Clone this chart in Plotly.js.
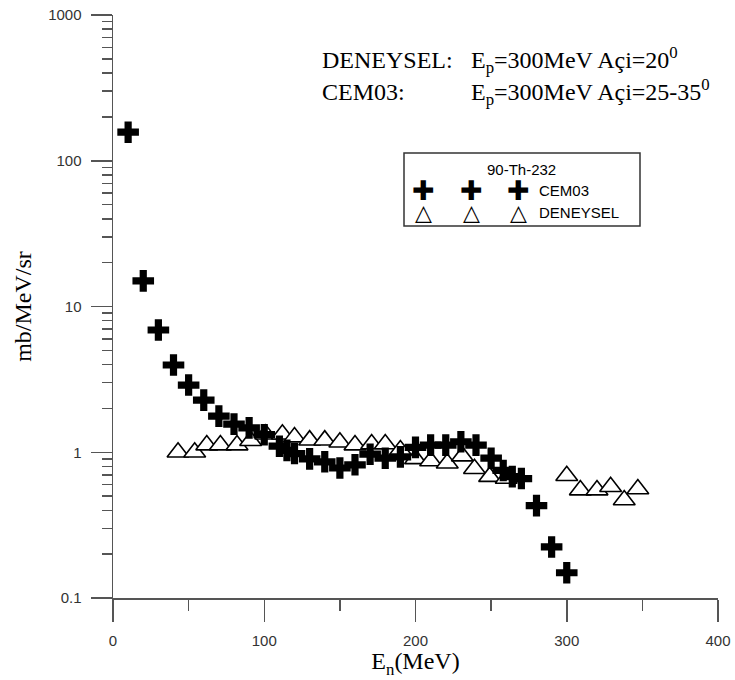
<!DOCTYPE html>
<html>
<head>
<meta charset="utf-8">
<script src="https://cdn.plot.ly/plotly-3.0.1.min.js"></script>
<style>html,body{margin:0;padding:0;background:#fff;}#chart{width:735px;height:680px;}</style>
</head>
<body>
<div id="chart"></div>
<script>
// CEM03 (E_p = 300 MeV, 25-35 deg)
const cemX = [10,20,30,40,50,60,70,80,90,100,110,115,120,130,140,150,160,170,180,190,200,210,220,230,240,250,258,264,270,280,290,300];
const cemY = [157,15,6.9,3.97,2.89,2.28,1.77,1.56,1.47,1.32,1.1,1.03,0.98,0.9,0.86,0.78,0.82,0.97,0.91,0.93,1.08,1.12,1.12,1.18,1.12,0.91,0.75,0.68,0.66,0.43,0.224,0.149];
// DENEYSEL (experimental, 20 deg)
const expX = [43,54,62,71,82,91,101,112,120,130,140,150,160,171,180,190,200,210,221,231,239,249,260,300,309,320,329,338,347];
const expY = [1.0,1.0,1.12,1.12,1.12,1.2,1.33,1.33,1.27,1.21,1.21,1.17,1.12,1.14,1.14,1.035,0.9,0.87,0.84,0.94,0.77,0.68,0.66,0.69,0.55,0.55,0.58,0.47,0.56];

const xTicks = [0,100,200,300,400];
const yTicks = [0.1,1,10,100,1000];
const yTickText = ['0.1','1','10','100','1000'];

const legendTitle = '90-Th-232';
const seriesNames = ['CEM03','DENEYSEL'];

const W = 735, H = 680, L = 113, R = 17, T = 15, B = 82;
const pw = W - L - R, ph = H - T - B;
const px = v => (v - L) / pw;
const py = v => (H - B - v) / ph;

const axisCol = '#555';
const tickFont = {family:'Liberation Sans, Arial, sans-serif', size:15, color:'#333'};
const serif = 'Liberation Serif, Times New Roman, serif';

const traces = [
  {x: expX, y: expY, type:'scatter', mode:'markers', name: seriesNames[1], showlegend:false,
   marker:{symbol:'triangle-up', size:19, color:'#fff', line:{color:'#000', width:1.6}}},
  {x: cemX, y: cemY, type:'scatter', mode:'markers', name: seriesNames[0], showlegend:false,
   marker:{symbol:'cross', size:18, color:'#000', line:{width:0}}}
];

const ann = [];
function txt(x, y, text, opts) {
  ann.push(Object.assign({xref:'paper', yref:'paper', x:px(x), y:py(y), text:text, showarrow:false,
    xanchor:'left', yanchor:'middle'}, opts || {}));
}
const annFont = {family: serif, size:24, color:'#000'};
txt(320, 60, 'DENEYSEL:', {font: annFont});
txt(469, 60, 'E<sub>p</sub>=300MeV Açi=20<sup>0</sup>', {font: annFont});
txt(320, 92, 'CEM03:', {font: annFont});
txt(469, 92, 'E<sub>p</sub>=300MeV Açi=25-35<sup>0</sup>', {font: annFont});

// legend box contents
const legFont = {family:'Liberation Sans, Arial, sans-serif', size:15, color:'#000'};
txt(521, 169, legendTitle, {font: legFont, xanchor:'center'});
[423, 471, 518].forEach(function (cx) {
  txt(cx, 190, '✚', {font:{family:'DejaVu Sans', size:27, color:'#000'}, xanchor:'center'});
  txt(cx, 212, '<b>△</b>', {font:{family:'DejaVu Sans', size:22, color:'#000'}, xanchor:'center'});
});
txt(537, 190, seriesNames[0], {font: legFont});
txt(537, 212, seriesNames[1], {font: legFont});

const layout = {
  width: W, height: H,
  margin: {l:L, r:R, t:T, b:B, pad:0},
  paper_bgcolor:'#fff', plot_bgcolor:'#fff',
  showlegend:false,
  font:{family:'Liberation Sans, Arial, sans-serif', color:'#333'},
  xaxis: {
    range:[0,400], tickvals:xTicks, ticktext:xTicks.map(String),
    ticks:'outside', ticklen:22, tickwidth:1.5, tickcolor:axisCol,
    showline:true, linecolor:axisCol, linewidth:1.5,
    showgrid:false, zeroline:false, tickfont:tickFont, ticklabelstandoff:6,
    minor:{dtick:50, ticks:'outside', ticklen:11, tickwidth:1.5, tickcolor:axisCol, showgrid:false},
    title:{text:'E<sub>n</sub>(MeV)', font:{family:serif, size:24, color:'#000'}, standoff:1}
  },
  yaxis: {
    type:'log', range:[-1,3], tickvals:yTicks, ticktext:yTickText,
    ticks:'outside', ticklen:21, tickwidth:1.5, tickcolor:axisCol,
    showline:true, linecolor:axisCol, linewidth:1.5,
    showgrid:false, zeroline:false, tickfont:tickFont, ticklabelstandoff:6,
    minor:{dtick:'D1', ticks:'outside', ticklen:10, tickwidth:1.5, tickcolor:axisCol, showgrid:false},
    title:{text:'mb/MeV/sr', font:{family:serif, size:24, color:'#000'}, standoff:9}
  },
  shapes: [
    {type:'rect', xref:'paper', yref:'paper', x0:px(404), x1:px(640), y0:py(226), y1:py(153),
     line:{color:'#333', width:1.5}, fillcolor:'rgba(255,255,255,0)', layer:'above'}
  ],
  annotations: ann
};

Plotly.newPlot('chart', traces, layout, {staticPlot:true, displayModeBar:false});
</script>
</body>
</html>
